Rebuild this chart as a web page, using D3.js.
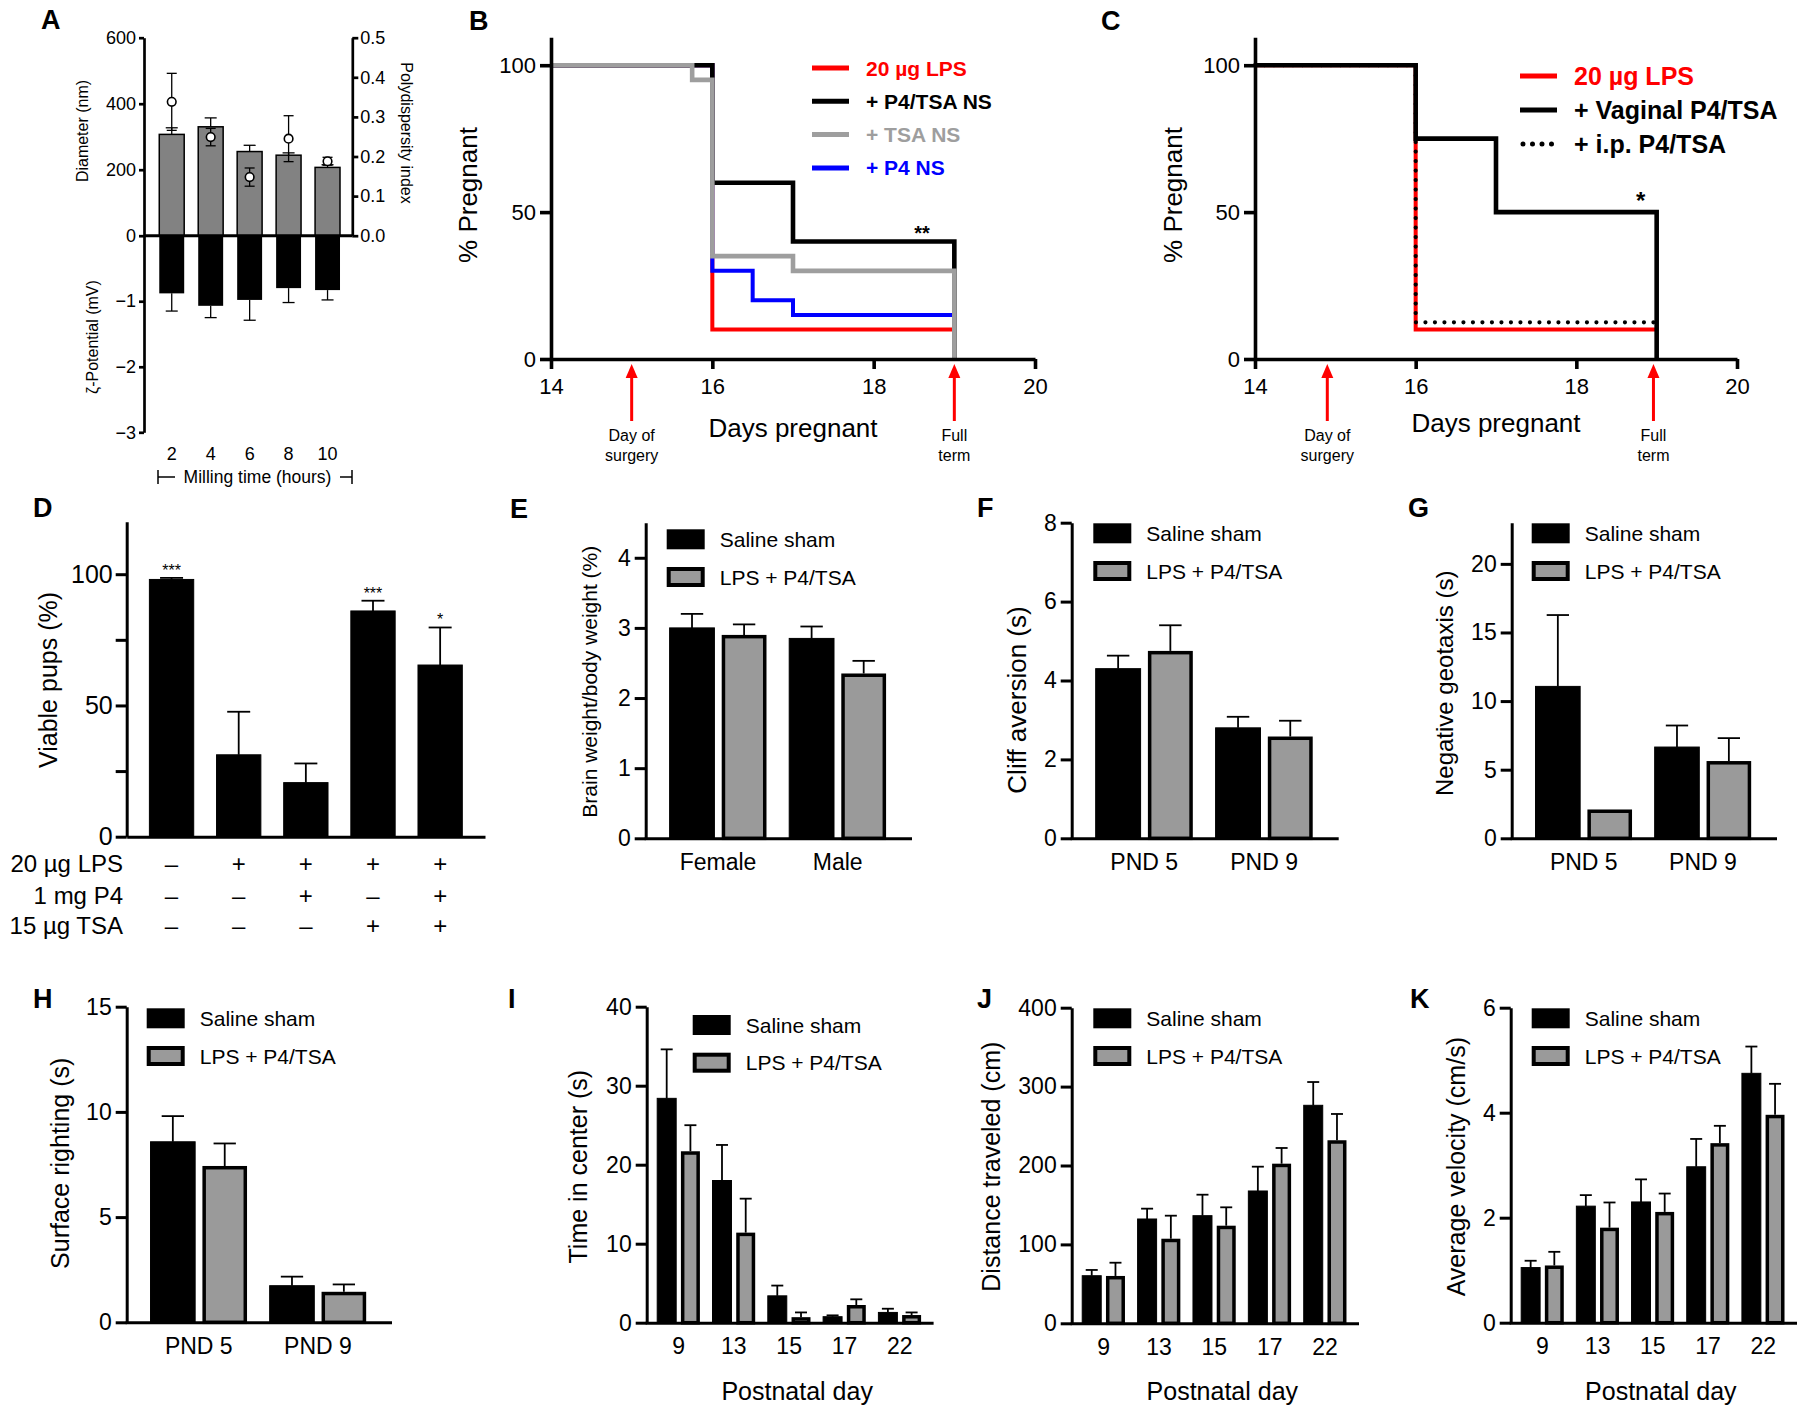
<!DOCTYPE html>
<html>
<head>
<meta charset="utf-8">
<script src="https://cdn.jsdelivr.net/npm/d3@7"></script>
<style>
  body { margin: 0; background: #fff; }
  svg { display: block; }
</style>
</head>
<body>
<div id="fig"></div>
<script>
// ---- A: nanosuspension milling ----
const millHours = ['2', '4', '6', '8', '10'];
const diameterNm = [307, 330, 255, 244, 207];
const diameterErr = [20, 27, 19, 7, 8];
const pdiValues = [0.338, 0.249, 0.148, 0.245, 0.188];
const pdiErr = [0.072, 0.022, 0.023, 0.058, 0.01];
const zetaMv = [-0.88, -1.07, -0.98, -0.80, -0.83];
const zetaErr = [0.27, 0.18, 0.31, 0.22, 0.15];

// ---- B / C: survival steps [day, % pregnant] ----
const bLps = [[14, 100], [16, 10], [19, 10]];
const bP4 = [[14, 100], [16, 30], [16.5, 20], [17, 15], [19, 15]];
const bP4Tsa = [[14, 100], [16, 60], [17, 40], [19, 0]];
const bTsa = [[14, 100], [15.75, 95], [16, 35], [17, 30], [19, 0]];
const cLps = [[14, 100], [16, 10], [19, 10]];
const cIp = [[14, 100], [16, 12.5], [19, 12.5]];
const cVaginal = [[14, 100], [16, 75], [17, 50], [19, 0]];
const dayTicks = [14, 16, 18, 20];
const pregTicks = [0, 50, 100];

// ---- D: viable pups ----
const viableGroups = ['sham', 'lps', 'lpsP4', 'lpsTsa', 'lpsP4Tsa'];
const viablePct = [98.0, 31.2, 20.6, 86.0, 65.4];
const viableErr = [0.6, 16.4, 7.3, 3.9, 14.3];
const viableStars = ['***', '', '', '***', '*'];
const rowLps = ['–', '+', '+', '+', '+'];
const rowP4 = ['–', '–', '+', '–', '+'];
const rowTsa = ['–', '–', '–', '+', '+'];

// ---- E-H: two-group comparisons ----
const sexGroups = ['Female', 'Male'];
const pndGroups = ['PND 5', 'PND 9'];
const brainSham = [3.0, 2.85], brainShamErr = [0.2, 0.17];
const brainTreat = [2.9, 2.35], brainTreatErr = [0.15, 0.18];
const cliffSham = [4.3, 2.8], cliffShamErr = [0.33, 0.28];
const cliffTreat = [4.75, 2.58], cliffTreatErr = [0.65, 0.4];
const geoSham = [11.07, 6.65], geoShamErr = [5.2, 1.57];
const geoTreat = [2.1, 5.63], geoTreatErr = [0, 1.67];
const rightSham = [8.58, 1.74], rightShamErr = [1.22, 0.43];
const rightTreat = [7.43, 1.45], rightTreatErr = [1.07, 0.35];

// ---- I-K: open field by postnatal day ----
const postnatalDays = ['9', '13', '15', '17', '22'];
const centerSham = [28.4, 18.0, 3.4, 0.76, 1.3], centerShamErr = [6.2, 4.5, 1.3, 0.17, 0.47];
const centerTreat = [21.7, 11.4, 0.7, 2.24, 0.97], centerTreatErr = [3.3, 4.3, 0.6, 0.72, 0.33];
const distSham = [60.3, 132.2, 136.4, 167.7, 276.3], distShamErr = [7.3, 13.1, 26.6, 30.8, 29.5];
const distTreat = [60, 107.2, 123.7, 202.3, 232], distTreatErr = [16.8, 29.2, 23.3, 19.9, 33.3];
const veloSham = [1.05, 2.22, 2.30, 2.97, 4.75], veloShamErr = [0.13, 0.21, 0.43, 0.53, 0.51];
const veloTreat = [1.09, 1.81, 2.11, 3.42, 3.96], veloTreatErr = [0.26, 0.48, 0.35, 0.33, 0.59];

const SANS = "'Liberation Sans', Arial, Helvetica, sans-serif";
const GREY = '#9a9a9a';
const intFmt = d3.format('d');

const svg = d3.select('#fig').append('svg')
  .attr('width', 1800).attr('height', 1411)
  .attr('font-family', SANS);

function panelLetter(x, y, s) {
  svg.append('text').attr('x', x).attr('y', y)
    .attr('font-size', 27).attr('font-weight', 'bold').text(s);
}

function styleAxis(sel, sw, fs) {
  sel.attr('font-family', SANS).attr('font-size', fs);
  sel.selectAll('path, line').attr('stroke', '#000').attr('stroke-width', sw);
  sel.selectAll('text').attr('fill', '#000');
}

function vText(g, x, y, s, size, angle) {
  g.append('text')
    .attr('transform', `translate(${x},${y}) rotate(${angle || -90})`)
    .attr('text-anchor', 'middle').attr('dy', '0.35em')
    .attr('font-size', size).text(s);
}

function errBar(g, cx, y1, y2, cap, sw, bothCaps) {
  const e = g.append('g').attr('stroke', '#000').attr('stroke-width', sw);
  e.append('line').attr('x1', cx).attr('x2', cx).attr('y1', y1).attr('y2', y2);
  e.append('line').attr('x1', cx - cap / 2).attr('x2', cx + cap / 2).attr('y1', y2).attr('y2', y2);
  if (bothCaps) e.append('line').attr('x1', cx - cap / 2).attr('x2', cx + cap / 2).attr('y1', y1).attr('y2', y1);
}

// ================= A =================
(function () {
  const g = svg.append('g');
  const x = d3.scaleBand().domain(millHours).range([144, 352])
    .paddingInner(0.36).paddingOuter(0.35).align(0.56);
  const yD = d3.scaleLinear().domain([0, 600]).range([235.7, 37.7]);
  const yZ = d3.scaleLinear().domain([-3, 0]).range([432.3, 235.7]);
  const yP = d3.scaleLinear().domain([0, 0.5]).range([235.7, 37.7]);
  const bw = x.bandwidth();
  const cx = d => x(d) + bw / 2;

  g.selectAll('rect.diam').data(millHours).join('rect').attr('class', 'diam')
    .attr('x', d => x(d)).attr('width', bw)
    .attr('y', (d, i) => yD(diameterNm[i]))
    .attr('height', (d, i) => yD(0) - yD(diameterNm[i]))
    .attr('fill', '#828282').attr('stroke', '#000').attr('stroke-width', 1.5);
  g.selectAll('rect.zeta').data(millHours).join('rect').attr('class', 'zeta')
    .attr('x', d => x(d)).attr('width', bw)
    .attr('y', yZ(0))
    .attr('height', (d, i) => yZ(zetaMv[i]) - yZ(0))
    .attr('fill', '#000');

  millHours.forEach((d, i) => {
    errBar(g, cx(d), yD(diameterNm[i]), yD(diameterNm[i] + diameterErr[i]), 12, 1.3);
    errBar(g, cx(d), yZ(zetaMv[i]), yZ(zetaMv[i] - zetaErr[i]), 12, 1.3);
    errBar(g, cx(d), yP(pdiValues[i] - pdiErr[i]), yP(pdiValues[i] + pdiErr[i]), 10, 1.3, true);
  });
  g.selectAll('circle.pdi').data(millHours).join('circle').attr('class', 'pdi')
    .attr('cx', cx).attr('cy', (d, i) => yP(pdiValues[i])).attr('r', 4.3)
    .attr('fill', '#fff').attr('stroke', '#000').attr('stroke-width', 1.6);

  const left = g.append('g').attr('transform', 'translate(144,0)');
  styleAxis(left.append('g').call(d3.axisLeft(yD).tickValues([0, 200, 400, 600]).tickFormat(intFmt)
    .tickSize(5).tickSizeOuter(0).tickPadding(3)), 2.7, 18);
  styleAxis(left.append('g').call(d3.axisLeft(yZ).tickValues([-3, -2, -1]).tickFormat(intFmt)
    .tickSize(5).tickSizeOuter(0).tickPadding(3)), 2.7, 18);
  const right = g.append('g').attr('transform', 'translate(352.3,0)')
    .call(d3.axisRight(yP).tickValues([0, 0.1, 0.2, 0.3, 0.4, 0.5])
      .tickFormat(d3.format('.1f')).tickSize(6).tickSizeOuter(0).tickPadding(2));
  styleAxis(right, 2.7, 18);

  g.append('line').attr('x1', 144).attr('x2', 352.3).attr('y1', yD(0)).attr('y2', yD(0))
    .attr('stroke', '#000').attr('stroke-width', 3);

  g.selectAll('text.hr').data(millHours).join('text').attr('class', 'hr')
    .attr('x', cx).attr('y', 460).attr('text-anchor', 'middle')
    .attr('font-size', 18).text(d => d);

  vText(g, 82, 131, 'Diameter (nm)', 16);
  vText(g, 92, 337, 'ζ-Potential (mV)', 16);
  vText(g, 407, 133, 'Polydispersity index', 16, 90);

  g.append('text').attr('x', 257.5).attr('y', 483).attr('text-anchor', 'middle')
    .attr('font-size', 17.5).text('Milling time (hours)');
  const br = g.append('g').attr('stroke', '#000').attr('stroke-width', 1.5);
  br.append('line').attr('x1', 158).attr('x2', 158).attr('y1', 470).attr('y2', 484);
  br.append('line').attr('x1', 158).attr('x2', 175).attr('y1', 477).attr('y2', 477);
  br.append('line').attr('x1', 340).attr('x2', 352).attr('y1', 477).attr('y2', 477);
  br.append('line').attr('x1', 352).attr('x2', 352).attr('y1', 470).attr('y2', 484);
})();
panelLetter(41, 29, 'A');

// ================= B / C =================
function survivalPanel(c) {
  const g = svg.append('g');
  const x = d3.scaleLinear().domain([14, 20]).range([c.x0, c.x1]);
  const y = d3.scaleLinear().domain([0, 109.5]).range([359, 37.3]);
  const line = d3.line().x(d => x(d[0])).y(d => y(d[1])).curve(d3.curveStepAfter);

  c.series.forEach(s => {
    const p = g.append('path').attr('d', line(s.pts)).attr('fill', 'none')
      .attr('stroke', s.color).attr('stroke-width', s.under ? 4 : 4.6);
    if (s.dotted) p.attr('stroke-dasharray', '0 9.5').attr('stroke-linecap', 'round').attr('stroke-width', 4.2);
  });

  styleAxis(g.append('g').attr('transform', `translate(${c.x0},0)`)
    .call(d3.axisLeft(y).tickValues(pregTicks).tickFormat(intFmt)
      .tickSize(11).tickSizeOuter(0).tickPadding(4)), 3.6, 22);
  styleAxis(g.append('g').attr('transform', `translate(0,${y(0)})`)
    .call(d3.axisBottom(x).tickValues(dayTicks).tickFormat(intFmt)
      .tickSize(10).tickSizeOuter(0).tickPadding(9)), 3.6, 22);

  // red arrows and their captions
  c.arrows.forEach(a => {
    const ax = x(a.day);
    g.append('line').attr('x1', ax).attr('x2', ax).attr('y1', 376).attr('y2', 421)
      .attr('stroke', '#ff0000').attr('stroke-width', 3);
    g.append('path').attr('d', `M${ax},364 L${ax - 6},378 L${ax + 6},378 Z`).attr('fill', '#ff0000');
    a.text.forEach((t, i) => g.append('text').attr('x', ax).attr('y', 441 + i * 20)
      .attr('text-anchor', 'middle').attr('font-size', 16).text(t));
  });

  vText(g, c.yTitleX, 195, '% Pregnant', 26);
  g.append('text').attr('x', (c.x0 + c.x1) / 2).attr('y', c.xTitleY)
    .attr('text-anchor', 'middle').attr('font-size', 26).text('Days pregnant');

  g.append('text').attr('x', x(c.star.day)).attr('y', y(c.star.val))
    .attr('text-anchor', 'middle').attr('font-size', c.star.size).attr('font-weight', 'bold')
    .text(c.star.text);

  const lg = c.legend;
  lg.items.forEach((it, i) => {
    const ly = lg.y + i * lg.dy;
    const l = g.append('line').attr('x1', lg.x).attr('x2', lg.x + 37).attr('y1', ly).attr('y2', ly)
      .attr('stroke', it.color).attr('stroke-width', 5);
    if (it.dotted) l.attr('stroke-dasharray', '0 9.5').attr('stroke-linecap', 'round').attr('x1', lg.x + 3);
    g.append('text').attr('x', lg.x + 54).attr('y', ly).attr('dy', '0.36em')
      .attr('font-size', lg.size).attr('font-weight', 'bold').attr('fill', it.textColor || it.color)
      .text(it.label);
  });
}

survivalPanel({
  x0: 551, x1: 1035, yTitleX: 468, xTitleY: 437,
  series: [
    { pts: bLps, color: '#ff0000', under: true },
    { pts: bP4, color: '#0000ff', under: true },
    { pts: bP4Tsa, color: '#000' },
    { pts: bTsa, color: '#9e9e9e' }
  ],
  arrows: [{ day: 15, text: ['Day of', 'surgery'] }, { day: 19, text: ['Full', 'term'] }],
  star: { day: 18.6, val: 40.5, text: '**', size: 20 },
  legend: {
    x: 812, y: 68, dy: 33.3, size: 21, items: [
      { label: '20 µg LPS', color: '#ff0000' },
      { label: '+ P4/TSA NS', color: '#000' },
      { label: '+ TSA NS', color: '#9e9e9e' },
      { label: '+ P4 NS', color: '#0000ff' }
    ]
  }
});
panelLetter(469, 30, 'B');

survivalPanel({
  x0: 1255, x1: 1737, yTitleX: 1173, xTitleY: 432,
  series: [
    { pts: cLps, color: '#ff0000', under: true },
    { pts: cIp, color: '#000', dotted: true },
    { pts: cVaginal, color: '#000' }
  ],
  arrows: [{ day: 14.9, text: ['Day of', 'surgery'] }, { day: 18.96, text: ['Full', 'term'] }],
  star: { day: 18.8, val: 51, text: '*', size: 24 },
  legend: {
    x: 1520, y: 76, dy: 34, size: 25, items: [
      { label: '20 µg LPS', color: '#ff0000' },
      { label: '+ Vaginal P4/TSA', color: '#000' },
      { label: '+ i.p. P4/TSA', color: '#000', dotted: true }
    ]
  }
});
panelLetter(1101, 30, 'C');

// ================= D =================
(function () {
  const g = svg.append('g');
  const x = d3.scaleBand().domain(viableGroups).range([126.7, 485]).paddingInner(0.34).paddingOuter(0.338);
  const y = d3.scaleLinear().domain([0, 120]).range([836.7, 521.7]);
  const bw = x.bandwidth();
  const cx = d => x(d) + bw / 2;

  g.selectAll('rect.v').data(viableGroups).join('rect').attr('class', 'v')
    .attr('x', d => x(d)).attr('width', bw)
    .attr('y', (d, i) => y(viablePct[i])).attr('height', (d, i) => y(0) - y(viablePct[i]))
    .attr('fill', '#000').attr('stroke', '#000').attr('stroke-width', 1);
  viableGroups.forEach((d, i) => {
    errBar(g, cx(d), y(viablePct[i]), y(viablePct[i] + viableErr[i]), 23, 1.8);
    if (viableStars[i]) {
      g.append('text').attr('x', cx(d)).attr('y', y(viablePct[i] + viableErr[i]) - 2)
        .attr('text-anchor', 'middle').attr('font-size', 16).text(viableStars[i]);
    }
  });

  styleAxis(g.append('g').attr('transform', 'translate(126.7,0)')
    .call(d3.axisLeft(y).tickValues([0, 25, 50, 75, 100]).tickFormat(d => d % 50 === 0 ? d : '')
      .tickSize(11).tickSizeOuter(0).tickPadding(3)), 3, 25);
  styleAxis(g.append('g').attr('transform', `translate(0,${y(0)})`)
    .call(d3.axisBottom(x).tickSize(0).tickSizeOuter(0).tickFormat('')), 3, 25);

  vText(g, 48, 680, 'Viable pups (%)', 25);

  const rows = [['20 µg LPS', rowLps, 872], ['1 mg P4', rowP4, 903.5], ['15 µg TSA', rowTsa, 933.5]];
  rows.forEach(([name, vals, by]) => {
    g.append('text').attr('x', 123).attr('y', by).attr('text-anchor', 'end')
      .attr('font-size', 24).text(name);
    g.selectAll(null).data(viableGroups).join('text')
      .attr('x', cx).attr('y', by).attr('text-anchor', 'middle')
      .attr('font-size', 24).text((d, i) => vals[i]);
  });
})();
panelLetter(33, 517, 'D');

// ================= E-K =================
function barPanel(c) {
  const g = svg.append('g');
  const x = d3.scaleBand().domain(c.groups).range([c.x0, c.x1]).paddingInner(c.inner).paddingOuter(c.outer);
  const xs = d3.scaleBand().domain(['sham', 'treat']).range([0, x.bandwidth()]).paddingInner(c.subInner);
  const y = d3.scaleLinear().domain([0, c.yMax]).range([c.yBottom, c.yTop]);
  const bw = xs.bandwidth();
  const cap = Math.max(bw * 0.5, 12);
  const rows = c.groups.flatMap((k, i) => [
    { grp: k, key: 'sham', v: c.sham[i], e: c.shamErr[i] },
    { grp: k, key: 'treat', v: c.treat[i], e: c.treatErr[i] }
  ]);
  const left = d => x(d.grp) + xs(d.key);
  const t = d => d.key === 'treat';

  g.selectAll('rect.bar').data(rows).join('rect').attr('class', 'bar')
    .attr('x', d => t(d) ? left(d) + 1.75 : left(d))
    .attr('width', d => t(d) ? bw - 3.5 : bw)
    .attr('y', d => t(d) ? y(d.v) + 1.75 : y(d.v))
    .attr('height', d => t(d) ? y(0) - y(d.v) - 1.75 : y(0) - y(d.v))
    .attr('fill', d => t(d) ? GREY : '#000')
    .attr('stroke', '#000').attr('stroke-width', d => t(d) ? 3.5 : 1);
  rows.filter(d => d.e > 0).forEach(d => errBar(g, left(d) + bw / 2, y(d.v), y(d.v + d.e), cap, 1.8));

  styleAxis(g.append('g').attr('transform', `translate(${c.x0},0)`)
    .call(d3.axisLeft(y).tickValues(c.ticks).tickFormat(intFmt)
      .tickSize(11).tickSizeOuter(0).tickPadding(4)), 3, 23);
  const xa = g.append('g').attr('transform', `translate(0,${c.yBottom})`)
    .call(d3.axisBottom(x).tickSize(0).tickSizeOuter(0).tickPadding(15));
  styleAxis(xa, 3, 23);
  xa.select('.domain').attr('stroke-linecap', 'square');

  vText(g, c.yTitle[1], c.yTitle[2], c.yTitle[0], c.yTitle[3]);
  if (c.xTitle) {
    g.append('text').attr('x', (c.x0 + c.x1) / 2 + 8).attr('y', c.yBottom + 77)
      .attr('text-anchor', 'middle').attr('font-size', 25).text(c.xTitle);
  }

  const lg = g.append('g').attr('transform', `translate(${c.legend[0]},${c.legend[1]})`);
  lg.append('rect').attr('width', 38).attr('height', 20).attr('fill', '#000');
  lg.append('rect').attr('x', 2).attr('y', 37.7 + 2).attr('width', 34).attr('height', 16)
    .attr('fill', GREY).attr('stroke', '#000').attr('stroke-width', 4);
  lg.append('text').attr('x', 53).attr('y', 10).attr('dy', '0.36em').attr('font-size', 21).text('Saline sham');
  lg.append('text').attr('x', 53).attr('y', 47.7).attr('dy', '0.36em').attr('font-size', 21).text('LPS + P4/TSA');
  panelLetter(c.letter[1], c.letter[2], c.letter[0]);
}

const two = { inner: 0.19, outer: 0.2, subInner: 0.14 };
const five = { inner: 0.228, outer: 0.19, subInner: 0.2 };

barPanel(Object.assign({
  letter: ['E', 510, 518], groups: sexGroups, x0: 645.7, x1: 910, yBottom: 838.3, yTop: 522.7,
  yMax: 4.5, ticks: [0, 1, 2, 3, 4], sham: brainSham, shamErr: brainShamErr, treat: brainTreat, treatErr: brainTreatErr,
  yTitle: ['Brain weight/body weight (%)', 590, 681.7, 21], legend: [666.7, 529.3]
}, two));
barPanel(Object.assign({
  letter: ['F', 977, 517], groups: pndGroups, x0: 1071.7, x1: 1336.7, yBottom: 838.3, yTop: 522.7,
  yMax: 8, ticks: [0, 2, 4, 6, 8], sham: cliffSham, shamErr: cliffShamErr, treat: cliffTreat, treatErr: cliffTreatErr,
  yTitle: ['Cliff aversion (s)', 1016.7, 700, 26], legend: [1093.3, 523.3]
}, two));
barPanel(Object.assign({
  letter: ['G', 1408, 517], groups: pndGroups, x0: 1511.7, x1: 1775, yBottom: 838.3, yTop: 522.7,
  yMax: 23, ticks: [0, 5, 10, 15, 20], sham: geoSham, shamErr: geoShamErr, treat: geoTreat, treatErr: geoTreatErr,
  yTitle: ['Negative geotaxis (s)', 1445, 683.3, 24], legend: [1531.7, 523.3]
}, two));
barPanel(Object.assign({
  letter: ['H', 33, 1008], groups: pndGroups, x0: 126.7, x1: 390, yBottom: 1322.3, yTop: 1006.7,
  yMax: 15, ticks: [0, 5, 10, 15], sham: rightSham, shamErr: rightShamErr, treat: rightTreat, treatErr: rightTreatErr,
  yTitle: ['Surface righting (s)', 60, 1163.3, 25], legend: [146.7, 1008.3]
}, two));
barPanel(Object.assign({
  letter: ['I', 508, 1008], groups: postnatalDays, x0: 646.7, x1: 931.6, yBottom: 1322.7, yTop: 1006.7,
  yMax: 40, ticks: [0, 10, 20, 30, 40], sham: centerSham, shamErr: centerShamErr, treat: centerTreat, treatErr: centerTreatErr,
  yTitle: ['Time in center (s)', 578.3, 1166.7, 25], legend: [692.7, 1015], xTitle: 'Postnatal day'
}, five));
barPanel(Object.assign({
  letter: ['J', 977, 1008], groups: postnatalDays, x0: 1071.7, x1: 1357, yBottom: 1323.3, yTop: 1007.7,
  yMax: 400, ticks: [0, 100, 200, 300, 400], sham: distSham, shamErr: distShamErr, treat: distTreat, treatErr: distTreatErr,
  yTitle: ['Distance traveled (cm)', 991.7, 1166.7, 25], legend: [1093.3, 1008.3], xTitle: 'Postnatal day'
}, five));
barPanel(Object.assign({
  letter: ['K', 1410, 1008], groups: postnatalDays, x0: 1510.7, x1: 1795, yBottom: 1322.7, yTop: 1007.7,
  yMax: 6, ticks: [0, 2, 4, 6], sham: veloSham, shamErr: veloShamErr, treat: veloTreat, treatErr: veloTreatErr,
  yTitle: ['Average velocity (cm/s)', 1456.7, 1166.7, 25], legend: [1531.7, 1008.3], xTitle: 'Postnatal day'
}, five));
</script>
</body>
</html>
